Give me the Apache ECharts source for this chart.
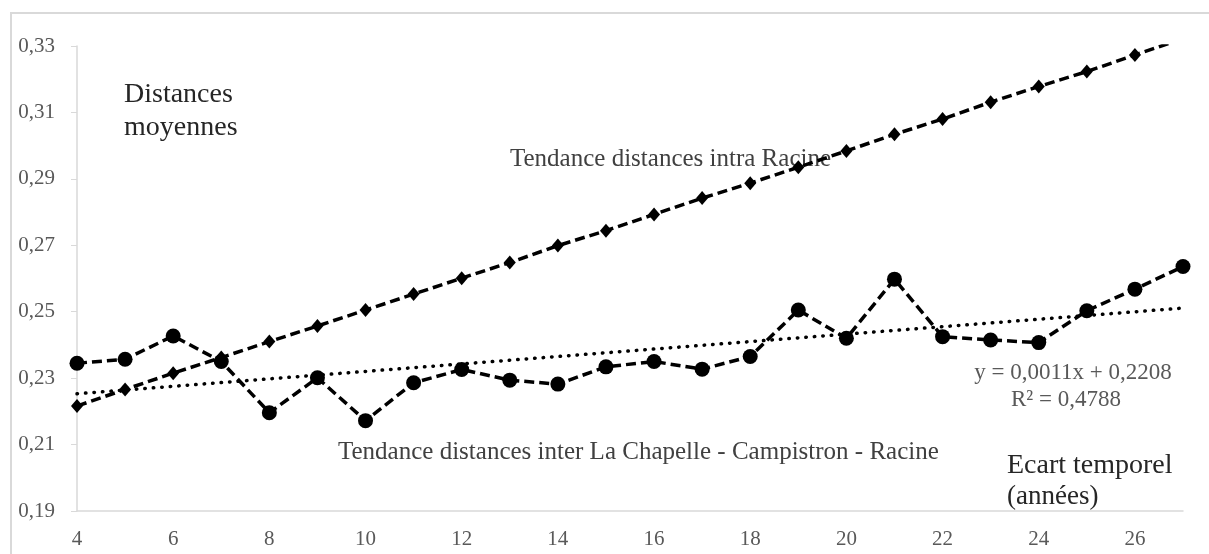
<!DOCTYPE html>
<html lang="fr">
<head>
  <meta charset="UTF-8">
  <title>distances</title>
  <script src="https://cdn.jsdelivr.net/npm/echarts@6/dist/echarts.min.js"></script>
  <style>
    *{margin:0;padding:0;}
    body{width:1209px;height:554px;background:#fff;}
    .container{width:1209px;height:554px;}
  </style>
</head>
<body>
  <div class="container"></div>

  <script type="text/javascript">
    // écart temporel (années)
    var ecart = [4,5,6,7,8,9,10,11,12,13,14,15,16,17,18,19,20,21,22,23,24,25,26,27]
    // distances inter La Chapelle - Campistron - Racine (ronds)
    var inter = [0.2345,0.2357,0.2427,0.2350,0.2196,0.2301,0.2172,0.2286,0.2326,0.2294,0.2282,0.2334,
                 0.2350,0.2327,0.2365,0.2505,0.2420,0.2598,0.2425,0.2415,0.2407,0.2503,0.2568,0.2636]
    // distances intra Racine (losanges)
    var intra = [0.2216,0.2266,0.2315,0.2362,0.2410,0.2457,0.2505,0.2553,0.2601,0.2648,0.2699,0.2744,
                 0.2793,0.2842,0.2887,0.2935,0.2984,0.3034,0.3080,0.3131,0.3178,0.3223,0.3273,0.3322]
    // courbe de tendance linéaire (extrémités)
    var trendX = [4,27]
    var trendY = [0.2253,0.2511]

    var serif = '"Liberation Serif", "DejaVu Serif", serif'
    function pairs(xs,ys){ return xs.map(function(x,i){ return [x,ys[i]] }) }

    const mCharts=echarts.init(document.querySelector('.container'))
    var option={
      animation:false,
      grid:{left:77,right:26,top:46,bottom:43},
      xAxis:{
        type:'value',
        min:4,
        max:27,
        interval:2,
        splitLine:{show:false},
        axisTick:{show:false},
        axisLine:{lineStyle:{color:'#d9d9d9',width:1.5}},
        axisLabel:{
          showMaxLabel:false,
          margin:18,
          color:'#595959',
          fontFamily:serif,
          fontSize:21
        }
      },
      yAxis:{
        type:'value',
        min:0.19,
        max:0.33,
        interval:0.02,
        splitLine:{show:false},
        axisLine:{show:true,lineStyle:{color:'#d9d9d9',width:1.5}},
        axisTick:{show:true,length:6,lineStyle:{color:'#d9d9d9'}},
        axisLabel:{
          margin:22,
          color:'#595959',
          fontFamily:serif,
          fontSize:21,
          formatter:function(v){ return v.toFixed(2).replace('.',',') }
        }
      },
      series:[
        {
          name:'intra Racine',
          type:'line',
          data:pairs(ecart,intra),
          symbol:'diamond',
          symbolSize:[12,14],
          itemStyle:{color:'#000'},
          lineStyle:{color:'#000',width:3.5,type:[10,5]},
          clip:true
        },
        {
          name:'inter',
          type:'line',
          data:pairs(ecart,inter),
          symbol:'circle',
          symbolSize:15,
          itemStyle:{color:'#000'},
          lineStyle:{color:'#000',width:3.5,type:[10,5]},
          clip:true
        },
        {
          name:'tendance',
          type:'line',
          data:pairs(trendX,trendY),
          symbol:'none',
          lineStyle:{color:'#000',width:3.5,type:[0.5,8],cap:'round'}
        }
      ],
      graphic:[
        {type:'rect',z:-1,shape:{x:11,y:13,width:1300,height:700},style:{fill:'none',stroke:'#d9d9d9',lineWidth:2}},
        {type:'text',x:124,y:95,style:{text:'Distances',font:'28px '+serif,fill:'#262626',verticalAlign:'middle'}},
        {type:'text',x:124,y:128,style:{text:'moyennes',font:'28px '+serif,fill:'#262626',verticalAlign:'middle'}},
        {type:'text',x:510,y:159,style:{text:'Tendance distances intra Racine',font:'25px '+serif,fill:'#404040',verticalAlign:'middle'}},
        {type:'text',x:338,y:452,style:{text:'Tendance distances inter La Chapelle - Campistron - Racine',font:'25px '+serif,fill:'#404040',verticalAlign:'middle'}},
        {type:'text',x:1007,y:466,style:{text:'Ecart temporel',font:'28px '+serif,fill:'#262626',verticalAlign:'middle'}},
        {type:'text',x:1007,y:497,style:{text:'(années)',font:'27px '+serif,fill:'#262626',verticalAlign:'middle'}},
        {type:'text',x:1073,y:373,style:{text:'y = 0,0011x + 0,2208',font:'23px '+serif,fill:'#595959',align:'center',verticalAlign:'middle'}},
        {type:'text',x:1066,y:400,style:{text:'R² = 0,4788',font:'23px '+serif,fill:'#595959',align:'center',verticalAlign:'middle'}}
      ]
    }
    mCharts.setOption(option)
    window.onresize=mCharts.resize
  </script>
</body>
</html>
